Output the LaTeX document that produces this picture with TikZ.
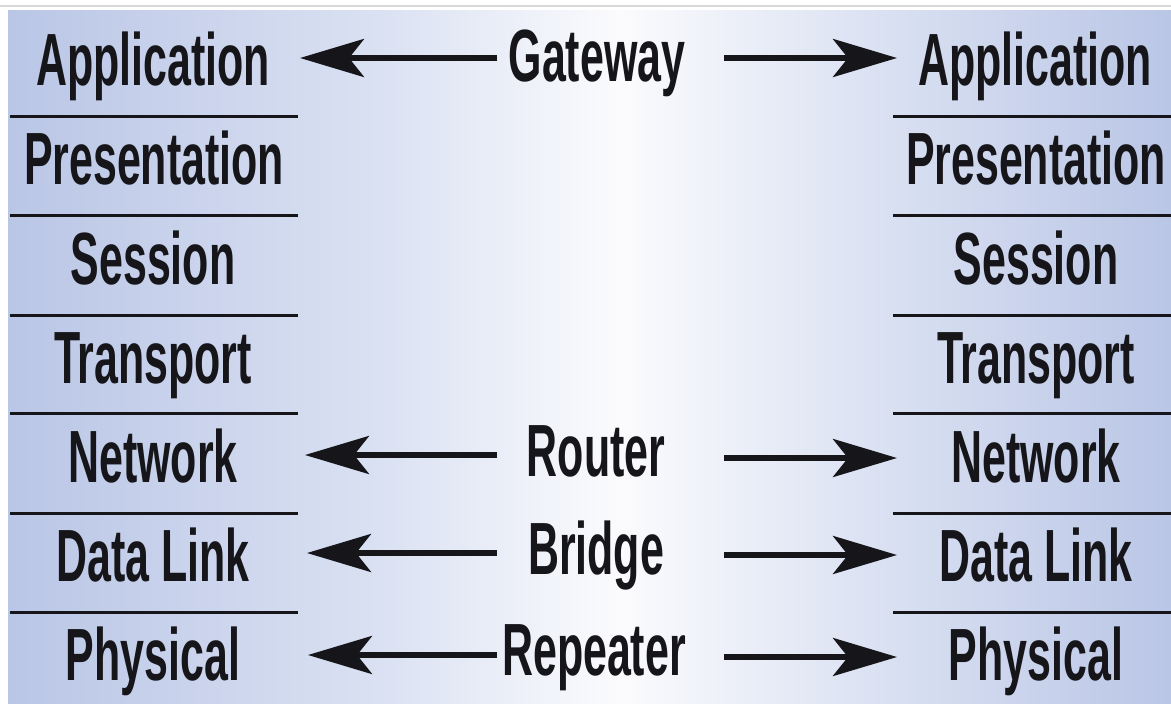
\documentclass[tikz,border=0pt]{standalone}
\usepackage{fontspec}
\setmainfont{Liberation Sans}[FakeStretch=0.58]
\usetikzlibrary{arrows.meta}
\definecolor{edgeblue}{RGB}{186,198,230}
\definecolor{midblue}{RGB}{218,225,242}
\definecolor{midwhite}{RGB}{251,251,253}
\definecolor{inkc}{RGB}{22,22,26}
\begin{document}
\begin{tikzpicture}[x=1pt,y=-1pt,
  lbl/.style={font=\fontsize{74}{74}\bfseries\selectfont, anchor=base, inner sep=0pt, text=inkc},
  sepline/.style={line width=3pt, draw=inkc},
  arr/.style={line width=5.5pt, draw=inkc, -{Stealth[length=64pt,width=38pt,inset=15pt]}}]
% background
\useasboundingbox (0,0) rectangle (1171,704);
\fill[white] (0,0) rectangle (1171,704);
\draw[black!15, line width=1.5pt] (0,6) -- (1171,6);
\shade[left color=edgeblue, right color=midblue] (8,10) rectangle (380,704);
\shade[left color=midblue, right color=midwhite] (380,10) rectangle (620,704);
\shade[left color=midwhite, right color=midblue] (620,10) rectangle (880,704);
\shade[left color=midblue, right color=edgeblue] (880,10) rectangle (1171,704);
% separator lines
\foreach \yy in {116,215,315,413,513,612}{
  \draw[sepline] (10,\yy) -- (298,\yy);
  \draw[sepline] (893,\yy) -- (1171,\yy);
}
% left stack
\node[lbl] (lapp) at (153,85) {Application};
\node[lbl] (lpre) at (154,184) {Presentation};
\node[lbl] (lses) at (153,284) {Session};
\node[lbl] (ltra) at (153,383) {Transport};
\node[lbl] (lnet) at (153,482) {Network};
\node[lbl] (ldat) at (153,581) {Data Link};
\node[lbl] (lphy) at (153,680) {Physical};
% right stack
\node[lbl] (rapp) at (1035,85) {Application};
\node[lbl] (rpre) at (1036,184) {Presentation};
\node[lbl] (rses) at (1036,284) {Session};
\node[lbl] (rtra) at (1036,383) {Transport};
\node[lbl] (rnet) at (1036,482) {Network};
\node[lbl] (rdat) at (1036,581) {Data Link};
\node[lbl] (rphy) at (1036,680) {Physical};
% devices
\node[lbl] (gw) at (597,81) {Gateway};
\node[lbl] (rt) at (596,476) {Router};
\node[lbl] (br) at (596,574) {Bridge};
\node[lbl] (rp) at (594,675) {Repeater};
% arrow ends
\coordinate (gwL) at (497,58);  \coordinate (gwLt) at (300,58);
\coordinate (gwR) at (724,58);  \coordinate (gwRt) at (897,58);
\coordinate (rtL) at (497,455); \coordinate (rtLt) at (305,455);
\coordinate (rtR) at (724,458); \coordinate (rtRt) at (897,458);
\coordinate (brL) at (497,553); \coordinate (brLt) at (307,553);
\coordinate (brR) at (724,555); \coordinate (brRt) at (897,555);
\coordinate (rpL) at (497,655); \coordinate (rpLt) at (308,655);
\coordinate (rpR) at (724,657); \coordinate (rpRt) at (897,657);
\draw[arr] (gwL) -- (gwLt);
\draw[arr] (gwR) -- (gwRt);
\draw[arr] (rtL) -- (rtLt);
\draw[arr] (rtR) -- (rtRt);
\draw[arr] (brL) -- (brLt);
\draw[arr] (brR) -- (brRt);
\draw[arr] (rpL) -- (rpLt);
\draw[arr] (rpR) -- (rpRt);
\end{tikzpicture}
\end{document}
